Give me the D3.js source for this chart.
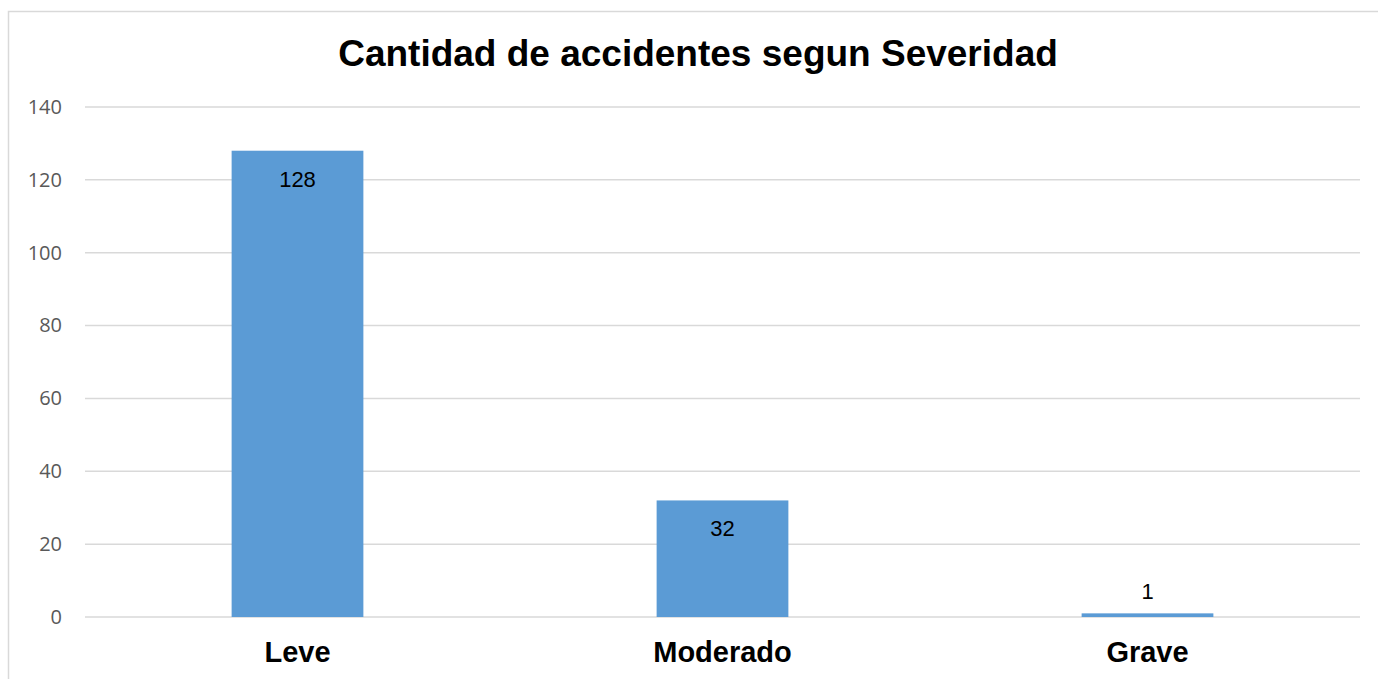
<!DOCTYPE html>
<html>
<head>
<meta charset="utf-8">
<script src="https://cdn.jsdelivr.net/npm/d3@7"></script>
<style>
	body { margin: 0; background: #fff; }
	svg { display: block; }
</style>
</head>
<body>
<div id="chart"></div>
<script>
"use strict";

const categories = ['Leve', 'Moderado', 'Grave'];
const values = [128, 32, 1];
const yTicks = [0, 20, 40, 60, 80, 100, 120, 140];
const chartTitle = 'Cantidad de accidentes segun Severidad';

const width = 1378, height = 679;
const margin = { top: 107, right: 18, bottom: 62, left: 85 };

let svg = d3.select('#chart').append('svg')
	.attr('width', width)
	.attr('height', height);

//---- Frame
svg.append('rect')
	.attr('x', 8.5)
	.attr('y', 11.5)
	.attr('width', width + 20)
	.attr('height', height + 20)
	.attr('fill', 'none')
	.attr('stroke', '#d9d9d9')
	.attr('stroke-width', 1.5);

//---- Scales
let x = d3.scaleBand()
	.domain(categories)
	.range([margin.left, width - margin.right])
	.paddingInner(0.69)
	.paddingOuter(0.345);

let y = d3.scaleLinear()
	.domain([0, 140])
	.range([height - margin.bottom, margin.top]);

//---- Grid
svg.append('g')
	.selectAll('line')
	.data(yTicks)
	.join('line')
	.attr('x1', margin.left)
	.attr('x2', width - margin.right)
	.attr('y1', d => y(d))
	.attr('y2', d => y(d))
	.attr('stroke', '#d9d9d9')
	.attr('stroke-width', 1.5);

//---- Y axis labels
let yAxis = svg.append('g')
	.attr('transform', `translate(${margin.left},0)`)
	.call(d3.axisLeft(y).tickValues(yTicks).tickSize(0).tickPadding(23));
yAxis.select('.domain').remove();
yAxis.selectAll('text')
	.attr('fill', '#595959')
	.style('font-family', '"Open Sans", sans-serif')
	.style('font-size', '20px');

//---- Bars
svg.append('g')
	.selectAll('rect')
	.data(values)
	.join('rect')
	.attr('x', (d, i) => x(categories[i]))
	.attr('y', d => y(d))
	.attr('width', x.bandwidth())
	.attr('height', d => y(0) - y(d))
	.attr('fill', '#5b9bd5');

//---- Data labels
svg.append('g')
	.selectAll('text')
	.data(values)
	.join('text')
	.attr('x', (d, i) => x(categories[i]) + x.bandwidth() / 2)
	.attr('y', d => d > 5 ? y(d) + 36 : y(d) - 14)
	.attr('text-anchor', 'middle')
	.attr('fill', '#000')
	.style('font-family', '"Liberation Sans", Arial, sans-serif')
	.style('font-size', '22px')
	.text(d => d);

//---- X axis labels
let xAxis = svg.append('g')
	.attr('transform', `translate(0,${y(0)})`)
	.call(d3.axisBottom(x).tickSize(0).tickPadding(24));
xAxis.select('.domain').remove();
xAxis.selectAll('text')
	.attr('fill', '#000')
	.style('font-family', '"Liberation Sans", Arial, sans-serif')
	.style('font-size', '29px')
	.style('font-weight', 'bold');

//---- Title
svg.append('text')
	.attr('x', 698)
	.attr('y', 66)
	.attr('text-anchor', 'middle')
	.attr('fill', '#000')
	.style('font-family', '"Liberation Sans", Arial, sans-serif')
	.style('font-size', '37px')
	.style('font-weight', 'bold')
	.text(chartTitle);
</script>
</body>
</html>
